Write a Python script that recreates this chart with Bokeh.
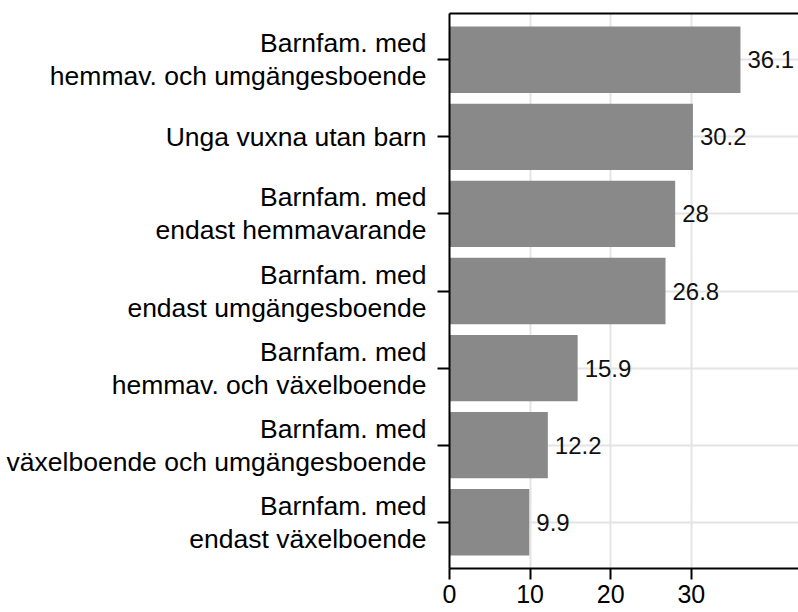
from bokeh.plotting import figure
from bokeh.models import FactorRange, Range1d, FixedTicker, LinearAxis, ColumnDataSource, LabelSet
from bokeh.core.properties import value
from bokeh.embed import file_html
from bokeh.resources import INLINE

categories = [
    "Barnfam. med\nhemmav. och umgängesboende",
    "Unga vuxna utan barn",
    "Barnfam. med\nendast hemmavarande",
    "Barnfam. med\nendast umgängesboende",
    "Barnfam. med\nhemmav. och växelboende",
    "Barnfam. med\nväxelboende och umgängesboende",
    "Barnfam. med\nendast växelboende",
]
values = [36.1, 30.2, 28, 26.8, 15.9, 12.2, 9.9]
x_ticks = [0, 10, 20, 30]
labels = [f"{v:g}" for v in values]

FONT = "Liberation Sans"

source = ColumnDataSource(data=dict(cat=categories, val=values, lab=labels))

p = figure(
    width=798, height=612,
    y_range=FactorRange(*reversed(categories), range_padding=0.2 / 7),
    x_range=Range1d(0, 43.3),
    output_backend="svg", toolbar_location=None,
    min_border_left=449, min_border_right=0, min_border_top=13, min_border_bottom=44,
)
p.outline_line_color = None
p.background_fill_color = "white"
p.border_fill_color = "white"

p.hbar(y="cat", right="val", left=0, height=0.86, source=source,
       fill_color="#898989", line_color=None)

p.add_layout(LabelSet(x="val", y="cat", text="lab", source=source, x_offset=7,
                      text_baseline="middle", text_font=value(FONT), text_font_size="24px",
                      text_color="#111111"))

xa = p.below[0]
xa.ticker = FixedTicker(ticks=x_ticks)
xa.axis_line_width = 2
xa.axis_line_color = "black"
xa.major_tick_line_width = 2
xa.major_tick_out = 11
xa.major_tick_in = 0
xa.minor_tick_line_color = None
xa.major_label_standoff = 5
xa.major_label_text_font = FONT
xa.major_label_text_font_size = "25px"
xa.major_label_text_color = "black"

ya = p.left[0]
ya.axis_line_width = 2
ya.axis_line_color = "black"
ya.major_tick_line_width = 2
ya.major_tick_out = 12
ya.major_tick_in = 0
ya.major_label_standoff = 11
ya.major_label_text_font = FONT
ya.major_label_text_font_size = "26.5px"
ya.major_label_text_color = "black"
ya.major_label_text_line_height = 1.1

# top border line
top = LinearAxis(ticker=FixedTicker(ticks=[]), major_tick_out=0, major_tick_in=0,
                 minor_tick_out=0, minor_tick_in=0, major_label_standoff=0,
                 major_label_text_font_size="0px", axis_line_width=2,
                 axis_line_color="black")
p.add_layout(top, "above")

p.xgrid.grid_line_color = "#e4e4e4"
p.xgrid.grid_line_width = 2
p.ygrid.grid_line_color = "#e4e4e4"
p.ygrid.grid_line_width = 2

open("out.html", "w").write(file_html(p, INLINE))
